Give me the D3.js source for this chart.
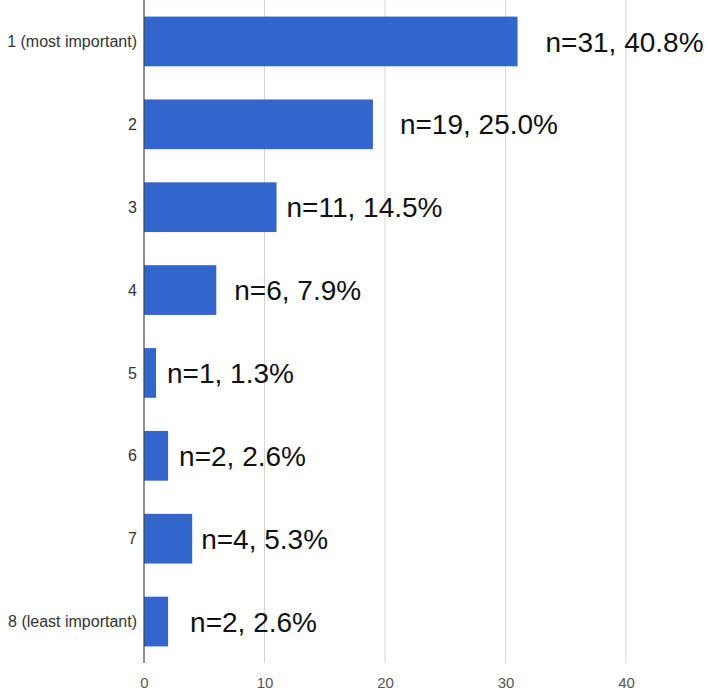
<!DOCTYPE html>
<html lang="en">
<head>
<meta charset="utf-8">
<script src="https://d3js.org/d3.v7.min.js"></script>
<style>
  body { margin: 0; background: #fff; }
  svg { display: block; font-family: "Liberation Sans", Arial, sans-serif; }
</style>
</head>
<body>
<script>
// chart data
var categories = ["1 (most important)", "2", "3", "4", "5", "6", "7", "8 (least important)"];
var counts = [31, 19, 11, 6, 1, 2, 4, 2];
var percents = ["40.8", "25.0", "14.5", "7.9", "1.3", "2.6", "5.3", "2.6"];
var xTicks = [0, 10, 20, 30, 40];

// the value labels sit at slightly different distances from each bar
var labelGap = [28, 27, 10, 18, 11, 11, 9, 22];

var width = 708, height = 692;
var left = 144, plotH = 663;

var svg = d3.select("body").append("svg")
    .attr("width", width)
    .attr("height", height);

var x = d3.scaleLinear()
    .domain([0, 40])
    .range([left, left + 482]);

var y = d3.scaleBand()
    .domain(categories)
    .range([0, plotH])
    .paddingInner(0.4)
    .paddingOuter(0.2);

// gridlines
svg.append("g")
    .selectAll("line")
    .data(xTicks.slice(1))
    .enter().append("line")
    .attr("x1", function(d) { return x(d); })
    .attr("x2", function(d) { return x(d); })
    .attr("y1", 0)
    .attr("y2", plotH)
    .style("stroke", "#d4d4d4")
    .style("stroke-width", 1);

// bars
svg.append("g")
    .selectAll("rect")
    .data(counts)
    .enter().append("rect")
    .attr("x", x(0))
    .attr("y", function(d, i) { return y(categories[i]); })
    .attr("width", function(d) { return x(d) - x(0); })
    .attr("height", y.bandwidth())
    .style("fill", "#3366cc");

// baseline
svg.append("line")
    .attr("x1", x(0)).attr("x2", x(0))
    .attr("y1", 0).attr("y2", plotH)
    .style("stroke", "#444")
    .style("stroke-width", 1.2);

// category labels
svg.append("g")
    .selectAll("text")
    .data(categories)
    .enter().append("text")
    .attr("x", x(0) - 7)
    .attr("y", function(d) { return y(d) + y.bandwidth() / 2; })
    .attr("dy", "0.35em")
    .attr("text-anchor", "end")
    .style("font-size", "16px")
    .style("fill", "#333")
    .text(function(d) { return d; });

// x axis labels
var xAxis = d3.axisBottom(x).tickValues(xTicks).tickSize(0).tickPadding(0);
var ax = svg.append("g")
    .attr("transform", "translate(0," + (plotH + 14) + ")")
    .call(xAxis);
ax.select(".domain").remove();
ax.selectAll("text")
    .style("font-size", "15px")
    .style("font-family", "'Liberation Sans', Arial, sans-serif")
    .style("fill", "#555");

// value labels
svg.append("g")
    .selectAll("text")
    .data(counts)
    .enter().append("text")
    .attr("x", function(d, i) { return x(d) + labelGap[i]; })
    .attr("y", function(d, i) { return y(categories[i]) + y.bandwidth() / 2; })
    .attr("dy", "0.36em")
    .style("font-size", "28px")
    .style("fill", "#111")
    .text(function(d, i) { return "n=" + d + ", " + percents[i] + "%"; });
</script>
</body>
</html>
